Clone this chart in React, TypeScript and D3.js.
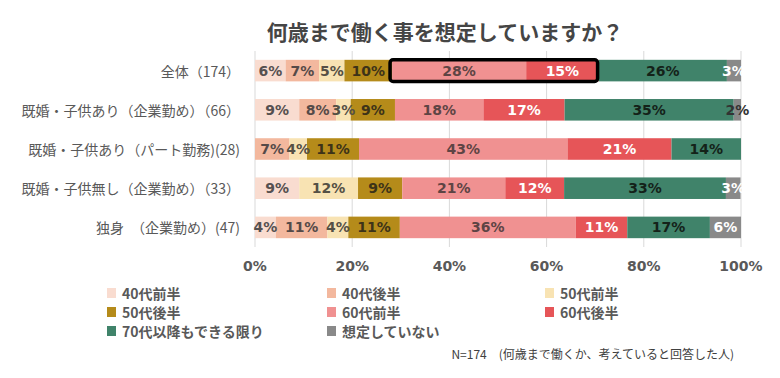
import React from "react";
import * as d3 from "d3";

const title = "何歳まで働く事を想定していますか？";
const note = "N=174\u3000(何歳まで働くか、考えていると回答した人)";

const categories = [
  "全体（174）",
  "既婚・子供あり（企業勤め）（66）",
  "既婚・子供あり（パート勤務)(28)",
  "既婚・子供無し（企業勤め）（33）",
  "独身　（企業勤め）(47)",
];

const seriesNames = [
  "40代前半",
  "40代後半",
  "50代前半",
  "50代後半",
  "60代前半",
  "60代後半",
  "70代以降もできる限り",
  "想定していない",
];

// percentages per row, in series order
const row全体 = [6.3, 6.9, 5.2, 9.8, 27.6, 14.9, 26.4, 2.9];
const row既婚子供あり企業 = [9.1, 7.6, 3.0, 9.1, 18.2, 16.7, 34.8, 1.5];
const row既婚子供ありパート = [0, 7.1, 3.6, 10.7, 42.9, 21.4, 14.3, 0];
const row既婚子供無し企業 = [9.1, 0, 12.1, 9.1, 21.2, 12.1, 33.3, 3.0];
const row独身企業 = [4.3, 10.6, 4.3, 10.6, 36.2, 10.6, 17.0, 6.4];
const values = [row全体, row既婚子供あり企業, row既婚子供ありパート, row既婚子供無し企業, row独身企業];

const xTicks = [0, 20, 40, 60, 80, 100];
const tickLabels = ["0%", "20%", "40%", "60%", "80%", "100%"];

const colors = ["#F9DCD0", "#F3B89E", "#F8E3B3", "#B58B1A", "#F09191", "#E65558", "#40836A", "#898989"];
const labelColors = ["#555050", "#554a48", "#555045", "#3d3318", "#5e4444", "#ffffff", "#142219", "#ffffff"];

// highlighted segments: row 0, series 4..5
const highlightRow = 0;
const highlightFrom = 4;
const highlightTo = 5;

export default function App() {
  const W = 780;
  const H = 378;
  const x = d3.scaleLinear().domain([0, 100]).range([255, 741]);
  const y = d3
    .scaleBand<string>()
    .domain(categories)
    .range([51, 247])
    .paddingInner(0.45)
    .paddingOuter(0.225);
  const bw = y.bandwidth();

  const stackData = categories.map((c, i) => {
    const o: any = { cat: c };
    seriesNames.forEach((s, j) => (o[s] = values[i][j]));
    return o;
  });
  const stack = d3.stack<any>().keys(seriesNames)(stackData);

  const hl = stack[highlightFrom][highlightRow];
  const hr = stack[highlightTo][highlightRow];
  const hy = y(categories[highlightRow])!;

  const legendX = [107, 327, 545];
  const legendY = [293, 312, 331];

  const cjk = "'Noto Sans CJK JP', 'Noto Sans', sans-serif";

  return (
    <svg
      width={W}
      height={H}
      viewBox={`0 0 ${W} ${H}`}
      style={{ position: "absolute", left: 0, top: 0, background: "#fff" }}
    >
      <defs>
        <clipPath id="plotclip">
          <rect x={0} y={0} width={742} height={H} />
        </clipPath>
      </defs>
      <rect width={W} height={H} fill="#fff" />
      <text
        x={445}
        y={31}
        textAnchor="middle"
        dominantBaseline="central"
        fontFamily={cjk}
        fontWeight={700}
        fontSize={21}
        fill="#454545"
      >
        {title}
      </text>

      {xTicks.map((t) => (
        <line key={t} x1={x(t)} x2={x(t)} y1={51} y2={247} stroke="#D9D9D9" strokeWidth={1} />
      ))}

      {stack.map((layer, j) =>
        layer.map((d, i) => {
          const w = x(d[1]) - x(d[0]);
          if (w <= 0) return null;
          return (
            <rect
              key={`${j}-${i}`}
              x={x(d[0])}
              y={y(categories[i])!}
              width={w}
              height={bw}
              fill={colors[j]}
            />
          );
        })
      )}

      {stack.map((layer, j) =>
        layer.map((d, i) => {
          const v = values[i][j];
          if (v <= 0) return null;
          const small = j === 7 && v < 2;
          const fill = small ? "#333333" : labelColors[j];
          const clip = j === 7 && !small;
          return (
            <text
              key={`l-${j}-${i}`}
              x={(x(d[0]) + x(d[1])) / 2}
              y={y(categories[i])! + bw / 2}
              textAnchor="middle"
              dominantBaseline="central"
              fontFamily="'DejaVu Sans', sans-serif"
              fontWeight={700}
              fontSize={14}
              fill={fill}
              clipPath={clip ? "url(#plotclip)" : undefined}
            >
              {`${Math.round(v)}%`}
            </text>
          );
        })
      )}

      <rect
        x={x(hl[0]) - 2}
        y={hy}
        width={x(hr[1]) - x(hl[0]) + 1}
        height={bw}
        fill="none"
        stroke="#000"
        strokeWidth={3.5}
        rx={3}
      />

      {categories.map((c) => (
        <text
          key={c}
          x={240}
          y={y(c)! + bw / 2}
          textAnchor="end"
          dominantBaseline="central"
          fontFamily={cjk}
          fontSize={14}
          fill="#595959"
        >
          {c}
        </text>
      ))}

      {xTicks.map((t, i) => (
        <text
          key={`t-${t}`}
          x={x(t)}
          y={266}
          textAnchor="middle"
          dominantBaseline="central"
          fontFamily="'DejaVu Sans', sans-serif"
          fontWeight={700}
          fontSize={14}
          fill="#595959"
        >
          {tickLabels[i]}
        </text>
      ))}

      {seriesNames.map((s, k) => {
        const col = k % 3;
        const row = Math.floor(k / 3);
        const lx = legendX[col];
        const ly = legendY[row];
        return (
          <g key={s}>
            <rect x={lx} y={ly - 5} width={9} height={10} fill={colors[k]} />
            <text
              x={lx + 15}
              y={ly}
              dominantBaseline="central"
              fontFamily={cjk}
              fontWeight={700}
              fontSize={14}
              fill="#595959"
            >
              {s}
            </text>
          </g>
        );
      })}

      <text
        x={734}
        y={353}
        textAnchor="end"
        dominantBaseline="central"
        fontFamily={cjk}
        fontSize={12}
        fill="#404040"
      >
        {note}
      </text>
    </svg>
  );
}
